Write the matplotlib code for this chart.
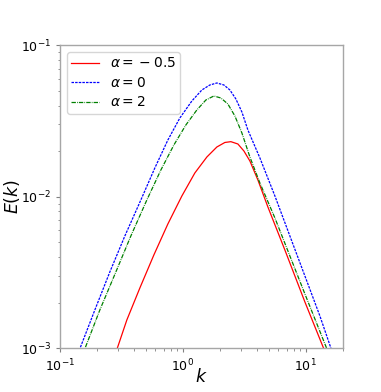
import numpy as np
import matplotlib
matplotlib.use('Agg')
import matplotlib.pyplot as plt

# values (log-log spectrum)
k_m05 = [0.2829, 0.3508, 0.4477, 0.5819, 0.7566, 0.9833, 1.254, 1.571, 1.895,
         2.201, 2.462, 2.808, 3.143, 3.516, 4.085, 4.926, 6.772, 9.854, 14.60]
E_m05 = [0.000917, 0.001537, 0.002500, 0.004128, 0.006615, 0.01012, 0.01436,
         0.01831, 0.02132, 0.02283, 0.02311, 0.02231, 0.02006, 0.01723,
         0.01291, 0.008564, 0.004454, 0.002021, 0.000917]

k_0 = [0.1401, 0.1927, 0.2551, 0.3380, 0.4562, 0.5929, 0.7566, 0.9472, 1.186,
       1.431, 1.662, 1.895, 2.160, 2.417, 2.705, 3.027, 3.386, 4.241, 5.618,
       7.437, 9.854, 13.05, 16.65]
E_0 = [0.000917, 0.001790, 0.003189, 0.005510, 0.009526, 0.01550, 0.02370,
       0.03313, 0.04288, 0.05070, 0.05470, 0.05638, 0.05470, 0.05070, 0.04420,
       0.03628, 0.02760, 0.01804, 0.01012, 0.005510, 0.003000, 0.001633,
       0.000917]

k_2 = [0.1539, 0.2116, 0.2856, 0.3782, 0.5104, 0.6635, 0.8466, 1.060, 1.302,
       1.542, 1.791, 2.042, 2.328, 2.655, 3.027, 3.516, 4.241, 5.618, 7.437,
       9.854, 15.45]
E_2 = [0.000917, 0.001790, 0.003189, 0.005510, 0.009526, 0.01502, 0.02197,
       0.02978, 0.03741, 0.04354, 0.04627, 0.04488, 0.04097, 0.03414, 0.02637,
       0.01831, 0.01233, 0.007246, 0.004067, 0.002283, 0.000917]

labels = [r'$\alpha = {}- 0.5$', r'$\alpha = 0$', r'$\alpha = 2$']

fig = plt.figure(figsize=(3.81, 3.92), dpi=100)
ax = fig.add_axes([0.157, 0.1115, 0.7425, 0.773])

ax.plot(k_m05, E_m05, color='r', lw=0.9, label=labels[0])
ax.plot(k_0, E_0, color='b', lw=0.9, dashes=(2.0, 0.9), label=labels[1])
ax.plot(k_2, E_2, color='g', lw=0.9, dashes=(3.5, 0.9, 0.6, 0.9), label=labels[2])

ax.set_xscale('log')
ax.set_yscale('log')
ax.set_xlim(0.1, 20)
ax.set_ylim(1e-3, 1e-1)

for sp in ax.spines.values():
    sp.set_color('0.65')
    sp.set_linewidth(1.0)
ax.tick_params(which='both', colors='0.5', labelcolor='black', labelsize=9)
ax.tick_params(which='major', length=3)
ax.tick_params(which='minor', length=1.8)

ax.set_xlabel(r'$k$', fontsize=12.5, labelpad=-4)
ax.set_ylabel(r'$E(k)$', fontsize=12.5, labelpad=-1)

ax.legend(loc='upper left', fontsize=10, handlelength=2.0, borderpad=0.3,
          labelspacing=0.4)

fig.savefig('out.png', dpi=100)
